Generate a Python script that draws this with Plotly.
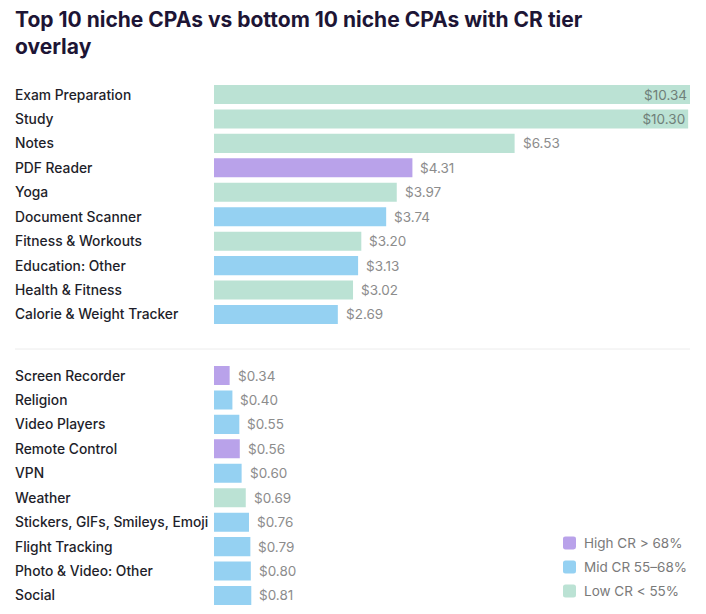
import plotly.graph_objects as go
from plotly.subplots import make_subplots

top_names = ["Exam Preparation", "Study", "Notes", "PDF Reader", "Yoga", "Document Scanner",
             "Fitness & Workouts", "Education: Other", "Health & Fitness", "Calorie & Weight Tracker"]
top_cpa = [10.34, 10.30, 6.53, 4.31, 3.97, 3.74, 3.20, 3.13, 3.02, 2.69]
top_tier = ["Low", "Low", "Low", "High", "Low", "Mid", "Low", "Mid", "Low", "Mid"]

bot_names = ["Screen Recorder", "Religion", "Video Players", "Remote Control", "VPN", "Weather",
             "Stickers, GIFs, Smileys, Emoji", "Flight Tracking", "Photo & Video: Other", "Social"]
bot_cpa = [0.34, 0.40, 0.55, 0.56, 0.60, 0.69, 0.76, 0.79, 0.80, 0.81]
bot_tier = ["High", "Mid", "Mid", "High", "Mid", "Low", "Mid", "Mid", "Mid", "Mid"]

tiers = ["High", "Mid", "Low"]
tier_labels = {"High": "High CR > 68%", "Mid": "Mid CR 55–68%", "Low": "Low CR < 55%"}
tier_colors = {"High": "#b9a2ea", "Mid": "#95d1f2", "Low": "#bbe2d4"}

FONT = "Inter, Roboto, sans-serif"
W, H = 706, 614
L, R = 214, 16
PW = W - L - R

fig = make_subplots(rows=2, cols=1)
big = max(top_cpa)

def add_group(names, vals, tier_list, row):
    colors = [tier_colors[t] for t in tier_list]
    inside = [v > 0.9 * big for v in vals]
    texts = [f"${v:.2f}" if ins else "" for v, ins in zip(vals, inside)]
    fig.add_trace(go.Bar(
        y=names, x=vals, orientation="h", marker=dict(color=colors, line=dict(width=0)),
        text=texts, textposition="inside", insidetextanchor="end", constraintext="none",
        insidetextfont=dict(family=FONT, size=13.5, color="#6f7f79"),
        cliponaxis=False, showlegend=False, hoverinfo="skip"), row=row, col=1)
    xr = "x" if row == 1 else "x2"
    yr = "y" if row == 1 else "y2"
    for n, v, ins in zip(names, vals, inside):
        if not ins:
            fig.add_annotation(x=v, xref=xr, y=n, yref=yr, text=f"${v:.2f}", showarrow=False,
                               xanchor="left", yanchor="middle", xshift=6,
                               font=dict(family=FONT, size=13.5, color="#8c8c8c"))

add_group(top_names, top_cpa, top_tier, 1)
add_group(bot_names, bot_cpa, bot_tier, 2)

for ax in ["xaxis", "xaxis2"]:
    fig.layout[ax].update(range=[0, big], domain=[0, 1], visible=False, fixedrange=True)

def dom(y_top, y_bot):
    return [1 - y_bot / H, 1 - y_top / H]

fig.layout.yaxis.update(domain=dom(82.3, 326.7), autorange="reversed", showticklabels=False,
                        showgrid=False, zeroline=False, ticks="")
fig.layout.yaxis2.update(domain=dom(363.3, 607.7), autorange="reversed", showticklabels=False,
                         showgrid=False, zeroline=False, ticks="")

def px_x(px):
    return (px - L) / PW

def px_y(py):
    return 1 - py / H

lab_x = px_x(13)
for names, yref in [(top_names, "y"), (bot_names, "y2")]:
    for n in names:
        fig.add_annotation(x=lab_x, xref="paper", y=n, yref=yref, text=n, showarrow=False,
                           xanchor="left", yanchor="middle",
                           font=dict(family=FONT, size=13.8, color="#1e1e2a", weight=500))

fig.add_shape(type="line", xref="paper", yref="paper", x0=px_x(15), x1=1,
              y0=px_y(349), y1=px_y(349), line=dict(color="#ececec", width=1))

fig.add_annotation(text="Top 10 niche CPAs vs bottom 10 niche CPAs with CR tier<br>overlay",
                   xref="paper", yref="paper", x=px_x(13), y=px_y(5), xanchor="left", yanchor="top",
                   align="left", showarrow=False,
                   font=dict(family=FONT, size=21, color="#1d1535", weight=700))

# legend (manual, rounded squares)
def conv(seg):
    out = []
    for tok in seg.split(" "):
        if "," in tok:
            a, b = tok.split(",")
            out.append(f"{px_x(float(a)):.5f},{px_y(float(b)):.5f}")
        else:
            out.append(tok)
    return " ".join(out)

leg_y = [543, 567, 591]
for t, cy in zip(tiers, leg_y):
    x0, x1, y0, y1, r = 563, 576, cy - 6.5, cy + 6.5, 2.5
    path = (f"M {x0 + r},{y0} L {x1 - r},{y0} Q {x1},{y0} {x1},{y0 + r} "
            f"L {x1},{y1 - r} Q {x1},{y1} {x1 - r},{y1} L {x0 + r},{y1} "
            f"Q {x0},{y1} {x0},{y1 - r} L {x0},{y0 + r} Q {x0},{y0} {x0 + r},{y0} Z")
    fig.add_shape(type="path", xref="paper", yref="paper", path=conv(path),
                  fillcolor=tier_colors[t], line=dict(width=0))
    fig.add_annotation(x=px_x(582), xref="paper", y=px_y(cy), yref="paper", text=tier_labels[t],
                       showarrow=False, xanchor="left", yanchor="middle",
                       font=dict(family=FONT, size=13.5, color="#7a7a7a"))

fig.update_layout(
    width=W, height=H,
    margin=dict(l=L, r=R, t=0, b=0, autoexpand=False),
    plot_bgcolor="white", paper_bgcolor="white",
    bargap=0.22, showlegend=False,
    font=dict(family=FONT),
)

fig.write_html("out.html")
